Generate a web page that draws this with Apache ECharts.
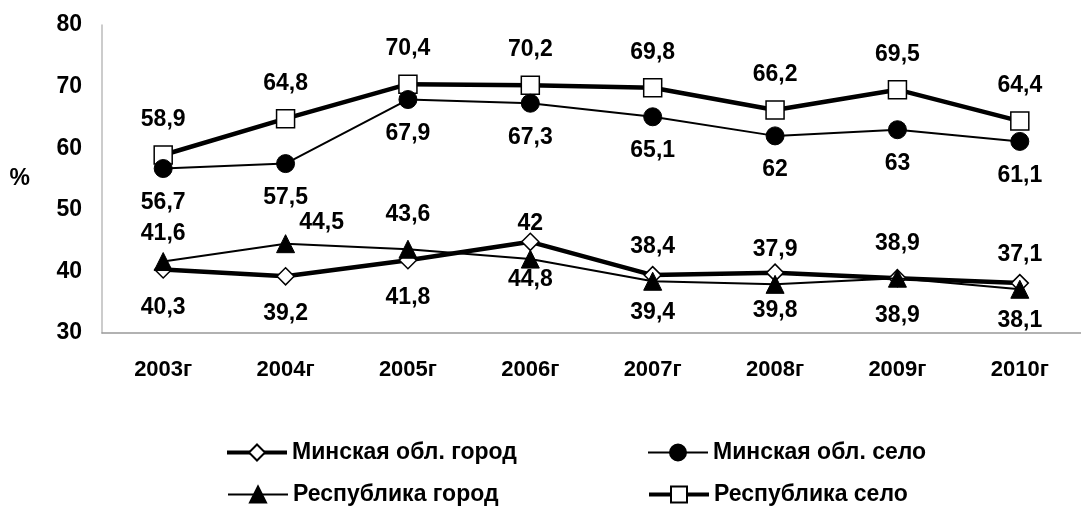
<!DOCTYPE html>
<html>
<head>
<meta charset="utf-8">
<script src="https://cdn.jsdelivr.net/npm/echarts@6/dist/echarts.min.js"></script>
<style>
html,body{margin:0;padding:0;background:#fff;}
#chart{width:1081px;height:508px;}
</style>
</head>
<body>
<div id="chart"></div>
<script>
const categories = ['2003г','2004г','2005г','2006г','2007г','2008г','2009г','2010г'];
const minskCity = [40.3, 39.2, 41.8, 44.8, 39.4, 39.8, 38.9, 38.1];
const minskVillage = [56.7, 57.5, 67.9, 67.3, 65.1, 62, 63, 61.1];
const repCity = [41.6, 44.5, 43.6, 42, 38.4, 37.9, 38.9, 37.1];
const repVillage = [58.9, 64.8, 70.4, 70.2, 69.8, 66.2, 69.5, 64.4];
const names = ['Минская обл. город','Минская обл. село','Республика город','Республика село'];
const yTicks = [30, 40, 50, 60, 70, 80];

const FONT = '"Liberation Sans", Arial, sans-serif';
const fmt = p => String(p.value).replace('.', ',');
const lbl = (pos, dist) => ({show:true, position:pos, distance:dist, formatter:fmt,
  fontFamily:FONT, fontWeight:'bold', fontSize:23, color:'#000'});

const chart = echarts.init(document.getElementById('chart'), null, {renderer:'canvas'});
const legendBase = {
  itemWidth:60, itemHeight:20, itemGap:0, itemTextGap:4, orient:'horizontal', padding:0,
  textStyle:{fontFamily:FONT, fontWeight:'bold', fontSize:23, color:'#000'}
};
const legItem = (name, w) => ({name:name, lineStyle:{width:w, color:'#000'}});
chart.setOption({
  animation:false,
  backgroundColor:'#fff',
  grid:{left:102, top:25, right:-15, bottom:175, containLabel:false},
  xAxis:{
    type:'category', data:categories, boundaryGap:true,
    axisLine:{show:true, lineStyle:{color:'#999', width:1.5}},
    axisTick:{show:false},
    axisLabel:{fontFamily:FONT, fontWeight:'bold', fontSize:22, color:'#000', margin:26}
  },
  yAxis:{
    type:'value', min:yTicks[0], max:yTicks[yTicks.length-1], interval:10,
    name:'%', nameLocation:'middle', nameRotate:0, nameGap:72,
    nameTextStyle:{fontFamily:FONT, fontWeight:'bold', fontSize:23, color:'#000'},
    axisLine:{show:true, lineStyle:{color:'#bbb', width:1.5}},
    axisTick:{show:false},
    splitLine:{show:false},
    axisLabel:{fontFamily:FONT, fontWeight:'bold', fontSize:23, color:'#000', margin:20}
  },
  legend:[
    Object.assign({}, legendBase, {data:[legItem(names[0], 4)], left:225, top:441}),
    Object.assign({}, legendBase, {data:[legItem(names[1], 2)], left:647, top:441}),
    Object.assign({}, legendBase, {data:[legItem(names[2], 2)], left:227, top:483}),
    Object.assign({}, legendBase, {data:[legItem(names[3], 4)], left:647, top:483})
  ],
  series:[
    {name:names[3], type:'line', data:repVillage, symbol:'rect', symbolSize:18,
     lineStyle:{color:'#000', width:4.5}, itemStyle:{color:'#fff', borderColor:'#000', borderWidth:1.5},
     label:lbl('top', 14), z:2},
    {name:names[1], type:'line', data:minskVillage, symbol:'circle', symbolSize:18,
     lineStyle:{color:'#000', width:2}, itemStyle:{color:'#000', borderColor:'#000', borderWidth:1},
     label:lbl('bottom', 13), z:3},
    {name:names[0], type:'line', data:minskCity, symbol:'diamond', symbolSize:17,
     lineStyle:{color:'#000', width:4.5}, itemStyle:{color:'#fff', borderColor:'#000', borderWidth:1.5},
     label:lbl('bottom', 17), z:4},
    {name:names[2], type:'line',
     data:repCity.map((v, i) => i === 1 ? {value:v, label:{offset:[36, 14]}} : (i === 0 ? {value:v, label:{offset:[0, 7]}} : v)),
     symbol:'triangle', symbolSize:18,
     lineStyle:{color:'#000', width:2}, itemStyle:{color:'#000', borderColor:'#000', borderWidth:1},
     label:lbl('top', 14), z:5}
  ]
});
</script>
</body>
</html>
